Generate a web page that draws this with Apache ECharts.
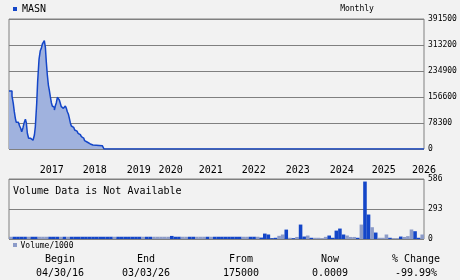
<!DOCTYPE html>
<html><head><meta charset="utf-8">
<script src="https://cdn.jsdelivr.net/npm/echarts@6/dist/echarts.min.js"></script>
<style>html,body{margin:0;padding:0;background:#f2f2f2}#c{width:460px;height:280px}</style>
</head><body><div id="c"></div>
<script>
const ticker = 'MASN';
const startDate = '2016-04-30';
const endDate = '2026-03-03';
const priceDates = ['2016-04-30','2016-05-26','2016-06-06','2016-06-15','2016-06-24','2016-07-02','2016-07-20','2016-07-31','2016-08-09','2016-08-18','2016-08-29','2016-09-07','2016-09-19','2016-09-27','2016-10-06','2016-10-17','2016-11-04','2016-11-15','2016-11-24','2016-12-06','2016-12-14','2016-12-26','2017-01-03','2017-01-15','2017-01-26','2017-02-04','2017-02-13','2017-03-02','2017-03-11','2017-03-19','2017-03-28','2017-04-06','2017-04-14','2017-04-23','2017-05-02','2017-05-10','2017-05-19','2017-05-28','2017-06-05','2017-06-14','2017-06-23','2017-07-10','2017-07-27','2017-08-05','2017-08-14','2017-08-31','2017-09-09','2017-09-17','2017-09-26','2017-10-05','2017-10-13','2017-10-22','2017-10-31','2017-11-11','2017-11-20','2017-11-28','2017-12-10','2017-12-19','2017-12-27','2018-01-08','2018-01-17','2018-01-25','2018-02-06','2018-02-14','2018-02-23','2018-03-07','2018-03-24','2018-04-04','2018-04-27','2018-07-17','2018-08-01','2026-03-03'];
const priceValues = [175000,159600,137600,112300,92400,80400,77400,69200,62300,52200,64200,77400,89400,79200,47300,32200,29200,26200,32200,42200,67100,137600,202600,270100,296000,303200,316200,326100,306200,262900,222800,192700,177600,157500,139400,129500,125600,117400,129500,139400,155700,147500,127400,122500,125600,129500,122500,112300,105400,92400,79200,69200,65300,61200,57200,54000,51200,47300,43100,40000,37000,33000,29200,25000,21100,17100,15100,12000,10000,7000,0.0009,0.0009];
const priceTicks = [0,78300,156600,234900,313200,391500];
const yearLabels = ['2017','2018','2019','2020','2021','2022','2023','2024','2025','2026'];
const yearLabelDates = ['2017-05-05','2018-05-12','2019-05-28','2020-02-29','2021-02-10','2022-02-17','2023-03-05','2024-03-20','2025-03-19','2026-03-03'];
const volumeTicks = [0,293,586];
const volumeValues = [22,22,22,22,22,22,22,22,22,22,22,22,22,22,22,22,22,22,22,22,22,22,22,22,22,22,22,22,22,22,22,22,22,22,22,22,22,22,22,22,22,22,22,22,22,30,22,22,22,22,22,22,22,22,22,22,22,22,22,22,22,22,22,22,22,22,22,22,22,22,14,53,44,8,12,31,44,92,12,8,20,141,24,34,12,12,12,8,21,34,12,82,102,44,34,20,20,12,141,561,239,115,63,12,12,44,12,8,8,24,20,28,93,76,12,44];
const volumeUp = [0,1,1,1,1,0,1,1,0,0,0,1,1,1,0,1,0,1,1,1,1,1,1,1,1,1,1,1,1,0,1,1,1,1,1,1,1,0,1,1,0,0,0,0,0,1,1,1,0,0,1,1,0,0,0,1,0,1,1,1,1,1,1,1,1,0,0,1,1,0,1,1,1,1,1,0,0,1,0,1,0,1,1,0,1,0,0,0,0,1,1,1,1,1,0,0,0,1,0,1,1,0,1,0,0,0,1,0,0,1,0,0,0,1,1,0];
const stats = [['Begin','04/30/16'],['End','03/03/26'],['From','175000'],['Now','0.0009'],['% Change','-99.99%']];

const ts = (s) => Date.parse(s + 'T00:00:00Z');
const volumeMonths = volumeValues.map((v, i) => {
  const d = new Date(Date.UTC(2016, 4 + i, 1));
  return d.getUTCFullYear() + '-' + String(d.getUTCMonth() + 1).padStart(2, '0');
});

const DARK = '#1446c8', LIGHT = '#8c9bc8', FILL = '#a0b2de', GRIDC = '#808080';
const MONO = '"DejaVu Sans Mono", monospace';
const yearTs = yearLabelDates.map(ts);

const chart = echarts.init(document.getElementById('c'), null, {renderer: 'canvas'});
const statX = [60, 146, 241, 330, 416];
function txt(text, x, y, size, align) {
  return {type:'text', style:{text: text, x: x, y: y, font: size + 'px ' + MONO, fill:'#000',
    textAlign: align, textVerticalAlign: 'middle', align: align, verticalAlign: 'middle'}};
}
const graphics = [
  {type:'rect', shape:{x:13,y:7,width:4,height:4}, style:{fill:DARK}},
  txt(ticker, 22, 9, 10, 'left'),
  txt('Monthly', 357, 9, 8, 'center'),
  txt('Volume Data is Not Available', 13, 191, 10, 'left'),
  {type:'rect', shape:{x:13,y:243,width:4,height:4}, style:{fill:LIGHT}},
  txt('Volume/1000', 20.5, 245.5, 8, 'left')
];
stats.forEach((s, i) => {
  graphics.push(txt(s[0], statX[i], 259.5, 10, 'center'));
  graphics.push(txt(s[1], statX[i], 273, 10, 'center'));
});

chart.setOption({
  backgroundColor: '#f2f2f2',
  animation: false,
  grid: [
    {left: 9, top: 19, width: 415, height: 130, show: true, borderColor: GRIDC, borderWidth: 1, backgroundColor: 'transparent'},
    {left: 9, top: 179, width: 415, height: 60, show: true, borderColor: GRIDC, borderWidth: 1, backgroundColor: 'transparent'}
  ],
  xAxis: [
    {type: 'value', gridIndex: 0, min: ts(startDate), max: ts(endDate),
     axisLine: {show: false}, axisTick: {show: false}, splitLine: {show: false},
     axisLabel: {customValues: yearTs, margin: 16, fontSize: 10, fontFamily: MONO, color: '#000', hideOverlap: false,
       formatter: (v) => { const k = yearTs.indexOf(+v); return k >= 0 ? yearLabels[k] : ''; }}},
    {type: 'category', gridIndex: 1, data: volumeMonths, boundaryGap: true,
     axisLine: {show: false}, axisTick: {show: false}, axisLabel: {show: false}, splitLine: {show: false}}
  ],
  yAxis: [
    {type: 'value', gridIndex: 0, position: 'right', min: 0, max: priceTicks[priceTicks.length-1], interval: priceTicks[1],
     axisLine: {show: false}, axisTick: {show: false},
     splitLine: {show: true, lineStyle: {color: GRIDC, width: 1}},
     axisLabel: {margin: 4, fontSize: 8, fontFamily: MONO, color: '#000', padding: [3,0,0,0], formatter: (v) => String(v)}},
    {type: 'value', gridIndex: 1, position: 'right', min: 0, max: volumeTicks[volumeTicks.length-1], interval: volumeTicks[1],
     axisLine: {show: false}, axisTick: {show: false},
     splitLine: {show: true, lineStyle: {color: GRIDC, width: 1}},
     axisLabel: {margin: 4, fontSize: 8, fontFamily: MONO, color: '#000', padding: [3,0,0,0], formatter: (v) => String(v)}}
  ],
  series: [
    {type: 'line', xAxisIndex: 0, yAxisIndex: 0, step: 'end', symbol: 'none',
     data: priceDates.map((d, i) => [ts(d), priceValues[i]]),
     lineStyle: {color: DARK, width: 1.5}, areaStyle: {color: FILL, opacity: 1}, z: 3},
    {type: 'bar', xAxisIndex: 1, yAxisIndex: 1, barWidth: '100%',
     data: volumeValues.map((v, i) => ({value: v, itemStyle: {color: volumeUp[i] ? DARK : LIGHT}})), z: 3}
  ],
  graphic: graphics
});
</script></body></html>
